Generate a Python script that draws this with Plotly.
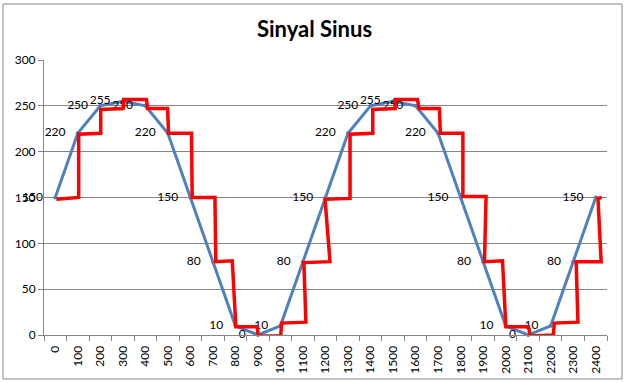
import plotly.graph_objects as go

# Blue series (category axis 0..2400)
categories = [0, 100, 200, 300, 400, 500, 600, 700, 800, 900, 1000, 1100, 1200,
              1300, 1400, 1500, 1600, 1700, 1800, 1900, 2000, 2100, 2200, 2300, 2400]
sine_values = [150, 220, 250, 255, 250, 220, 150, 80, 10, 0, 10, 80, 150,
               220, 250, 255, 250, 220, 150, 80, 10, 0, 10, 80, 150]
tick_labels = [str(c) for c in categories]

# Red stepped series (x in the same units as the categories)
step_x = [5, 104, 104, 202, 202, 301, 304, 405, 410, 499, 503, 605, 608, 709, 713, 786,
          802, 897, 901, 1001, 1005, 1113, 1104, 1220, 1198, 1309, 1309, 1410, 1410, 1509,
          1509, 1608, 1616, 1706, 1710, 1810, 1810, 1913, 1906, 1986, 2001, 2101, 2109,
          2212, 2216, 2321, 2313, 2424, 2410, 2427]
step_y = [148, 150, 219, 220, 246, 247, 257, 257, 247, 247, 220, 220, 150, 150, 80, 81,
          9, 9, -1, -1, 13, 14, 79, 80, 148, 149, 219, 220, 246, 247,
          257, 257, 247, 247, 220, 220, 151, 151, 80, 81, 9, 9, -1,
          0, 13, 14, 80, 80, 149, 150]

BLUE = "#4F81BD"
RED = "#FF0000"
GRID = "#868686"
FONT = "Lato"

fig = go.Figure()
fig.add_trace(go.Scatter(
    x=categories, y=sine_values, mode="lines+markers",
    line=dict(color=BLUE, width=3), marker=dict(size=4, color=BLUE),
    cliponaxis=False, showlegend=False, hoverinfo="skip"))
fig.add_trace(go.Scatter(
    x=categories, y=sine_values, mode="markers+text",
    text=[str(v) for v in sine_values], textposition="middle left",
    textfont=dict(family=FONT, size=12, color="#000000"),
    marker=dict(size=18, color="rgba(0,0,0,0)"),
    cliponaxis=False, showlegend=False, hoverinfo="skip"))
fig.add_trace(go.Scatter(
    x=step_x, y=step_y, mode="lines",
    line=dict(color=RED, width=3.5),
    cliponaxis=False, showlegend=False, hoverinfo="skip"))

fig.update_layout(
    template="none",
    width=629, height=383,
    margin=dict(l=44, r=22, t=60, b=48, autoexpand=False),
    paper_bgcolor="white", plot_bgcolor="white",
    font=dict(family=FONT, size=12, color="#000000"),
    title=dict(text="<b>Sinyal Sinus</b>", x=0.5, xanchor="center",
               y=1 - 29 / 383, yanchor="middle", yref="container",
               font=dict(family=FONT, size=22, color="#000000")),
    shapes=[dict(type="rect", xref="paper", yref="paper",
                 x0=(3 - 44) / 563, x1=(622 - 44) / 563,
                 y0=(335 - 379) / 275, y1=(335 - 4) / 275,
                 line=dict(color=GRID, width=1), fillcolor="rgba(0,0,0,0)",
                 layer="below")],
)

fig.update_xaxes(
    automargin=False,
    range=[-50, 2450], tickvals=categories, ticktext=tick_labels,
    tickangle=-90, ticks="outside", ticklen=5, tickcolor="rgba(0,0,0,0)",
    minor=dict(tick0=-50, dtick=100, ticks="outside", ticklen=5, tickcolor=GRID),
    showgrid=False, zeroline=False, showline=True, linecolor=GRID, linewidth=1,
    tickfont=dict(family=FONT, size=12, color="#000000"))
fig.update_yaxes(
    automargin=False,
    range=[0, 300], tickvals=[0, 50, 100, 150, 200, 250, 300],
    ticks="outside", ticklen=5, tickcolor=GRID,
    showgrid=True, gridcolor=GRID, gridwidth=1, zeroline=False,
    showline=True, linecolor=GRID, linewidth=1,
    tickfont=dict(family=FONT, size=12, color="#000000"))

fig.write_html("out.html", config={"displayModeBar": False},
               post_script="document.body.style.margin='0';")
